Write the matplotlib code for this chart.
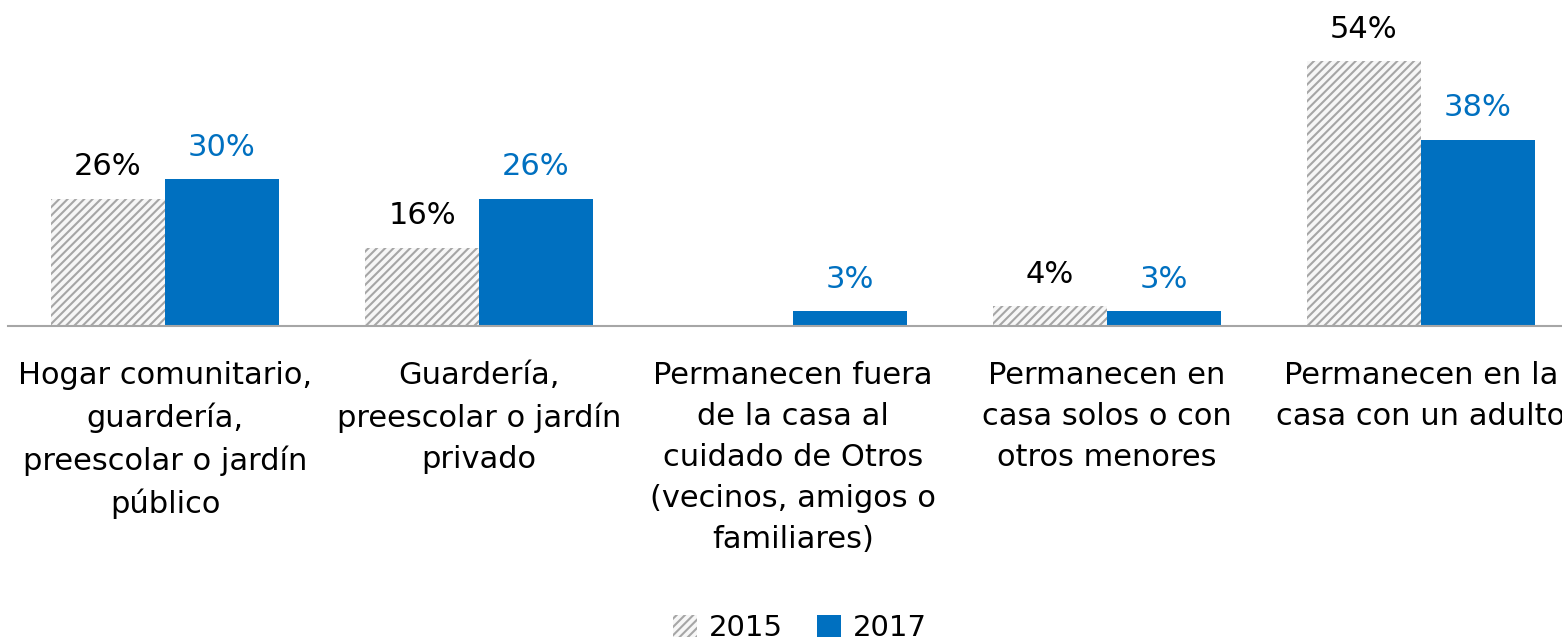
import numpy as np
import matplotlib
matplotlib.use('Agg')
import matplotlib.pyplot as plt
from matplotlib.patches import Patch

# data
categories = ['Hogar comunitario,\nguardería,\npreescolar o jardín\npúblico',
              'Guardería,\npreescolar o jardín\nprivado',
              'Permanecen fuera\nde la casa al\ncuidado de Otros\n(vecinos, amigos o\nfamiliares)',
              'Permanecen en\ncasa solos o con\notros menores',
              'Permanecen en la\ncasa con un adulto']
years = ['2015', '2017']
values_2015 = [26, 16, np.nan, 4, 54]
values_2017 = [30, 26, 3, 3, 38]

blue = '#0070C0'
hatch_grey = '#A6A6A6'
plt.rcParams['font.family'] = ['DejaVu Sans']
plt.rcParams['hatch.linewidth'] = 1.5

fig = plt.figure(figsize=(15.62, 6.42), dpi=100)
ax = fig.add_axes([8 / 1562, (642 - 326) / 642, 1570 / 1562, 294 / 642])

x = np.arange(len(categories))
w = 114 / 314

b1 = ax.bar(x - w / 2, values_2015, w, color='#F7F7F7', edgecolor=hatch_grey,
            hatch='////', linewidth=0)
b2 = ax.bar(x + w / 2, values_2017, w, color=blue, linewidth=0)

# value labels
for xi, v in zip(x, values_2015):
    if not np.isnan(v):
        ax.text(xi - w / 2, v + 6.5, f'{v:.0f}%', ha='center', va='center',
                fontsize=22, color='black')
for xi, v in zip(x, values_2017):
    ax.text(xi + w / 2, v + 6.5, f'{v:.0f}%', ha='center', va='center',
            fontsize=22, color=blue)

ax.set_xlim(-0.5, len(categories) - 0.5)
ax.set_ylim(0, 60)
ax.set_yticks([])
ax.set_xticks(x)
# the last label runs off the right edge, as in the original
ax.set_xticklabels(categories, fontsize=22, linespacing=1.52)
ax.tick_params(axis='x', length=0, pad=25)
for s in ['top', 'right', 'left']:
    ax.spines[s].set_visible(False)
ax.spines['bottom'].set_color('#A6A6A6')
ax.spines['bottom'].set_linewidth(1.5)

handles = [Patch(facecolor='#F7F7F7', edgecolor=hatch_grey, hatch='////', linewidth=0),
           Patch(facecolor=blue, linewidth=0)]
fig.legend(handles, years, loc='center', bbox_to_anchor=(800 / 1562, 1 - 628 / 642),
           ncol=2, frameon=False, fontsize=21, handlelength=0.8, handleheight=0.8,
           handletextpad=0.4, columnspacing=1.2)

fig.savefig('out.png', dpi=100)
plt.close(fig)
